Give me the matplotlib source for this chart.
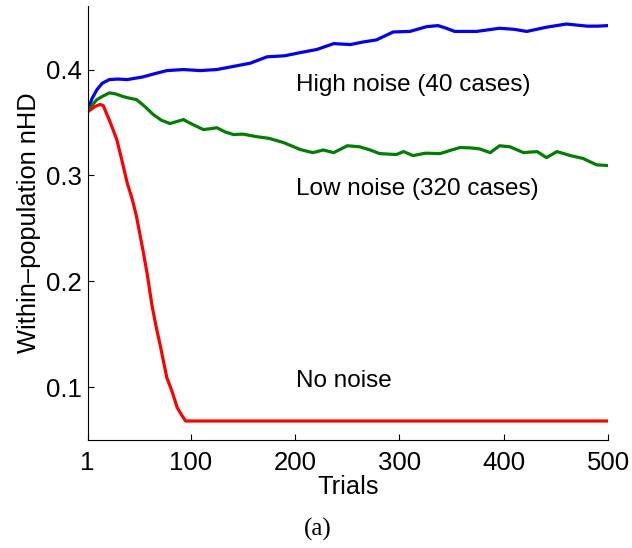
import matplotlib.pyplot as plt

plt.rcParams['font.family'] = ['Liberation Sans', 'DejaVu Sans']

# trial numbers and within-population nHD for each noise condition
trials_high = [1, 5, 10, 15, 22, 30, 39, 54, 65, 77, 93, 109, 125, 141, 157, 173, 190, 205, 221, 237,
               253, 265, 278, 294, 310, 326, 337, 345, 353, 374, 396, 410, 422, 441, 460, 470, 480, 490, 500]
nhd_high = [0.360, 0.372, 0.381, 0.387, 0.3905, 0.391, 0.3905, 0.393, 0.396, 0.399, 0.400, 0.399, 0.400,
            0.403, 0.406, 0.412, 0.413, 0.416, 0.419, 0.4245, 0.4236, 0.426, 0.428, 0.4355, 0.436, 0.4405,
            0.4415, 0.439, 0.436, 0.436, 0.439, 0.438, 0.436, 0.440, 0.443, 0.442, 0.441, 0.441, 0.4415]

trials_low = [1, 5, 10, 16, 22, 28, 35, 41, 48, 56, 64, 72, 80, 87, 93, 100, 112, 118, 125, 133, 141, 150,
              163, 175, 189, 205, 217, 227, 237, 250, 262, 272, 281, 297, 304, 313, 325, 339, 350, 358, 368,
              377, 387, 396, 406, 419, 432, 441, 451, 464, 476, 489, 500]
nhd_low = [0.360, 0.366, 0.3716, 0.375, 0.378, 0.377, 0.3745, 0.373, 0.3716, 0.365, 0.3575, 0.352, 0.349,
           0.351, 0.3527, 0.349, 0.3433, 0.344, 0.345, 0.341, 0.3386, 0.339, 0.3366, 0.335, 0.331, 0.3244,
           0.3215, 0.324, 0.3215, 0.328, 0.327, 0.324, 0.3206, 0.3197, 0.3225, 0.3187, 0.321, 0.3206, 0.324,
           0.3263, 0.326, 0.325, 0.3215, 0.328, 0.327, 0.3215, 0.3225, 0.3168, 0.3225, 0.3187, 0.316, 0.310,
           0.3093]

trials_none = [1, 8, 13, 16, 22, 29, 34, 39, 44, 48, 54, 58, 63, 67, 71, 77, 82, 87, 91, 95, 200, 300, 400, 500]
nhd_none = [0.360, 0.365, 0.367, 0.366, 0.352, 0.334, 0.314, 0.293, 0.277, 0.261, 0.230, 0.208, 0.176,
            0.156, 0.138, 0.109, 0.096, 0.0805, 0.074, 0.068, 0.068, 0.068, 0.068, 0.068]

fig = plt.figure(figsize=(6.32, 5.48), dpi=100)
ax = fig.add_axes([0.1385, 0.197, 0.8236, 0.792])

ax.plot(trials_high, nhd_high, color=(0, 0, 1), lw=2.3)
ax.plot(trials_low, nhd_low, color=(0, 0.5, 0), lw=2.3)
ax.plot(trials_none, nhd_none, color=(1, 0, 0), lw=2.3)

# curve labels
ax.text(201, 0.3855, 'High noise (40 cases)', fontsize=17.5, va='center')
ax.text(201, 0.2875, 'Low noise (320 cases)', fontsize=17.5, va='center')
ax.text(201, 0.1055, 'No noise', fontsize=17.5, va='center')

ax.set_xlim(1, 500)
ax.set_ylim(0.05, 0.46)
ax.set_xticks([1, 100, 200, 300, 400, 500])
ax.set_yticks([0.1, 0.2, 0.3, 0.4])
ax.tick_params(direction='in', length=4, labelsize=18.5)
ax.tick_params(axis='x', pad=8)
ax.tick_params(axis='y', pad=4)
ax.spines['top'].set_visible(False)
ax.spines['right'].set_visible(False)

ax.set_xlabel('Trials', fontsize=18.3, labelpad=0)
ax.set_ylabel('Within\u2013population nHD', fontsize=18.3, labelpad=4)

fig.text(0.503, 0.033, '(a)', fontsize=18, family='Liberation Serif', ha='center', va='center')

plt.savefig('out.png')
plt.close()
